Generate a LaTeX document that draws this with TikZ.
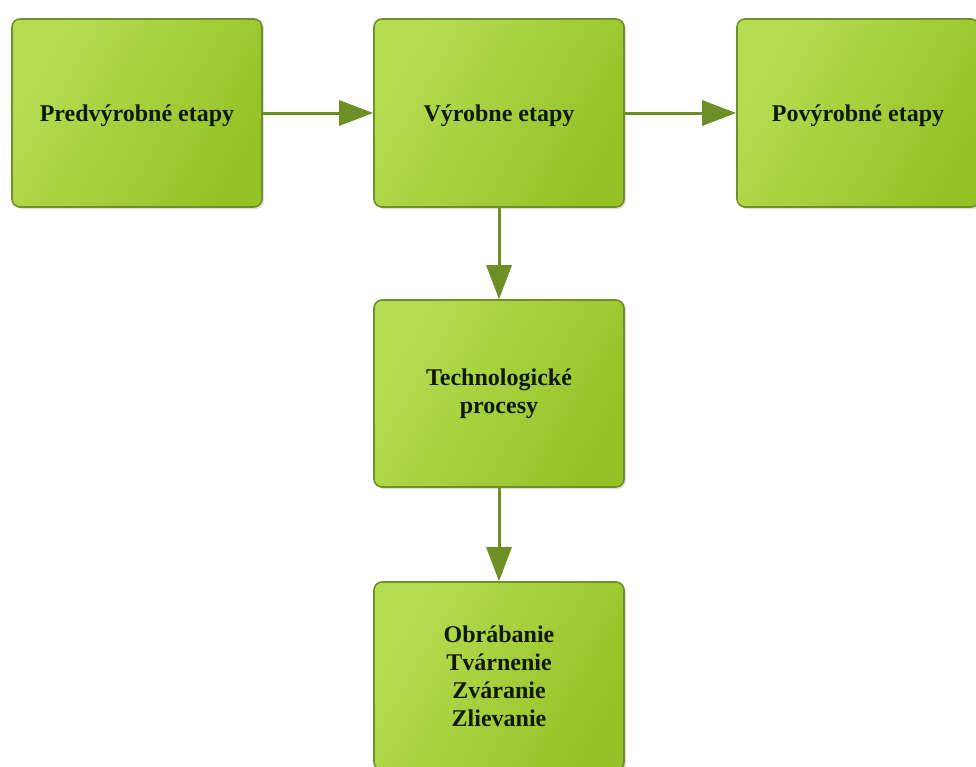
\documentclass[tikz,border=0pt]{standalone}
\usepackage{fontspec}
\setmainfont{Liberation Serif}
\usetikzlibrary{arrows.meta,shadows}
\definecolor{gtop}{HTML}{B6DD52}
\definecolor{gbot}{HTML}{95C226}
\definecolor{gedge}{HTML}{6F8F2C}
\definecolor{garrow}{HTML}{6E8E26}
\definecolor{gtext}{HTML}{0E1A05}
\tikzset{
  box/.style={rectangle, rounded corners=8pt, draw=gedge, line width=1.6pt,
    left color=gtop, right color=gbot, shading angle=60,
    minimum width=250pt, minimum height=188pt, inner sep=0pt,
    align=center, font=\fontsize{24}{28}\selectfont\bfseries, text=gtext,
    drop shadow={shadow xshift=2pt, shadow yshift=-2pt, fill=black!25, opacity=0.5}},
  oneline/.style={text depth=0pt, text height=16pt},
  conn/.style={draw=garrow, line width=3pt,
    -{Triangle[length=34pt, width=25pt]}}
}
\begin{document}
\begin{tikzpicture}[x=1pt,y=-1pt]
\useasboundingbox (0,0) rectangle (976,766);
\begin{scope}
\clip (0,0) rectangle (976,766);
\node[box, oneline] (pre) at (137,113) {Predvýrobné etapy};
\node[box, oneline] (vyr) at (499,113) {Výrobne etapy};
\node[box, oneline, minimum width=242pt] (pov) at (858,113) {Povýrobné etapy};
\node[box, minimum height=187pt] (tech) at (499,393.5) {Technologické\\procesy};
\node[box, minimum height=188pt] (obr) at (499,676) {Obrábanie\\Tvárnenie\\Zváranie\\Zlievanie};
\end{scope}
\draw[conn] (pre.east) -- (vyr.west);
\draw[conn] (vyr.east) -- (pov.west);
\draw[conn] (vyr.south) -- (tech.north);
\draw[conn] (tech.south) -- (obr.north);
\end{tikzpicture}
\end{document}
